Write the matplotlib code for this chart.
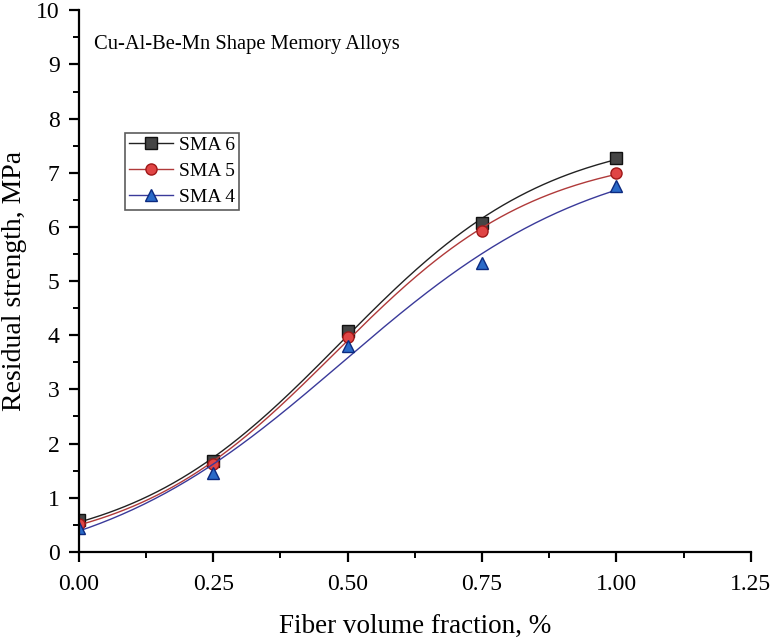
import numpy as np
import matplotlib
matplotlib.use("Agg")
import matplotlib.pyplot as plt
from matplotlib.ticker import MultipleLocator, FormatStrFormatter

plt.rcParams['font.family'] = ['Liberation Serif', 'DejaVu Serif']

fiber = [0.0, 0.25, 0.50, 0.75, 1.00]
sma6 = [0.58, 1.67, 4.08, 6.08, 7.28]
sma5 = [0.52, 1.62, 3.97, 5.92, 7.00]
sma4 = [0.45, 1.45, 3.80, 5.33, 6.75]

series = [
    ("SMA 6", sma6, "s", "#454545", "#111111", "#222222"),
    ("SMA 5", sma5, "o", "#e04545", "#a01818", "#b03a3a"),
    ("SMA 4", sma4, "^", "#2a6ac8", "#0c2a80", "#3a3a9a"),
]


def boltzmann(x, p):
    a1, a2, x0, dx = p
    return a2 + (a1 - a2) / (1 + np.exp((x - x0) / dx))


def fit_boltzmann(x, y):
    # small Levenberg-Marquardt loop, like the sigmoid fit in Origin
    x = np.asarray(x, float)
    y = np.asarray(y, float)
    p = np.array([y.min() - 0.3, y.max() * 1.15, 0.5, 0.2])
    lam = 1e-2
    for _ in range(500):
        r = y - boltzmann(x, p)
        J = np.empty((len(x), 4))
        for k in range(4):
            dp = np.zeros(4)
            dp[k] = 1e-6 * max(1.0, abs(p[k]))
            J[:, k] = (boltzmann(x, p + dp) - boltzmann(x, p)) / dp[k]
        A = J.T @ J
        step = np.linalg.solve(A + lam * np.diag(np.diag(A)), J.T @ r)
        pn = p + step
        if pn[3] > 0.02 and np.sum((y - boltzmann(x, pn)) ** 2) < np.sum(r ** 2):
            p = pn
            lam *= 0.5
        else:
            lam *= 4
    return p


fig = plt.figure(figsize=(7.74, 6.41), dpi=100)
ax = fig.add_axes([0.102, 0.139, 0.868, 0.845])

xs = np.linspace(0, 1, 200)
for name, vals, mk, fc, ec, lc in series:
    p = fit_boltzmann(fiber, vals)
    ax.plot(xs, boltzmann(xs, p), color=lc, lw=1.0)
    ax.plot(fiber, vals, linestyle="none", marker=mk, markersize=8,
            markerfacecolor=fc, markeredgecolor=ec, markeredgewidth=1.0)
    ax.plot([], [], color=lc, lw=1.0, marker=mk, markersize=8,
            markerfacecolor=fc, markeredgecolor=ec, label=name)

ax.set_xlim(0, 1.25)
ax.set_ylim(0, 10)
ax.xaxis.set_major_locator(MultipleLocator(0.25))
ax.xaxis.set_minor_locator(MultipleLocator(0.125))
ax.yaxis.set_major_locator(MultipleLocator(1))
ax.yaxis.set_minor_locator(MultipleLocator(0.5))
ax.xaxis.set_major_formatter(FormatStrFormatter('%.2f'))

for s in ["top", "right"]:
    ax.spines[s].set_visible(False)
for s in ["left", "bottom"]:
    ax.spines[s].set_linewidth(1.6)
ax.tick_params(which="major", direction="out", length=7, width=1.6, labelsize=17)
ax.tick_params(which="minor", direction="out", length=4, width=1.4)
ax.tick_params(axis="x", pad=9)
ax.tick_params(axis="y", pad=7)

ax.set_xlabel("Fiber volume fraction, %", fontsize=19.5)
ax.set_ylabel("Residual strength, MPa", fontsize=20)
ax.xaxis.set_label_coords(0.5, -0.114)
ax.yaxis.set_label_coords(-0.077, 0.5)

ax.text(0.028, 9.37, "Cu-Al-Be-Mn Shape Memory Alloys", fontsize=14.8, va="center")

leg = ax.legend(loc="upper left", bbox_to_anchor=(0.068, 0.774), fontsize=14,
                frameon=True, fancybox=False, handlelength=2.3,
                borderpad=0.2, labelspacing=0.42, handletextpad=0.3,
                borderaxespad=0)
leg.get_frame().set_edgecolor("#333333")
leg.get_frame().set_linewidth(1.2)

fig.savefig("out.png", dpi=100)
